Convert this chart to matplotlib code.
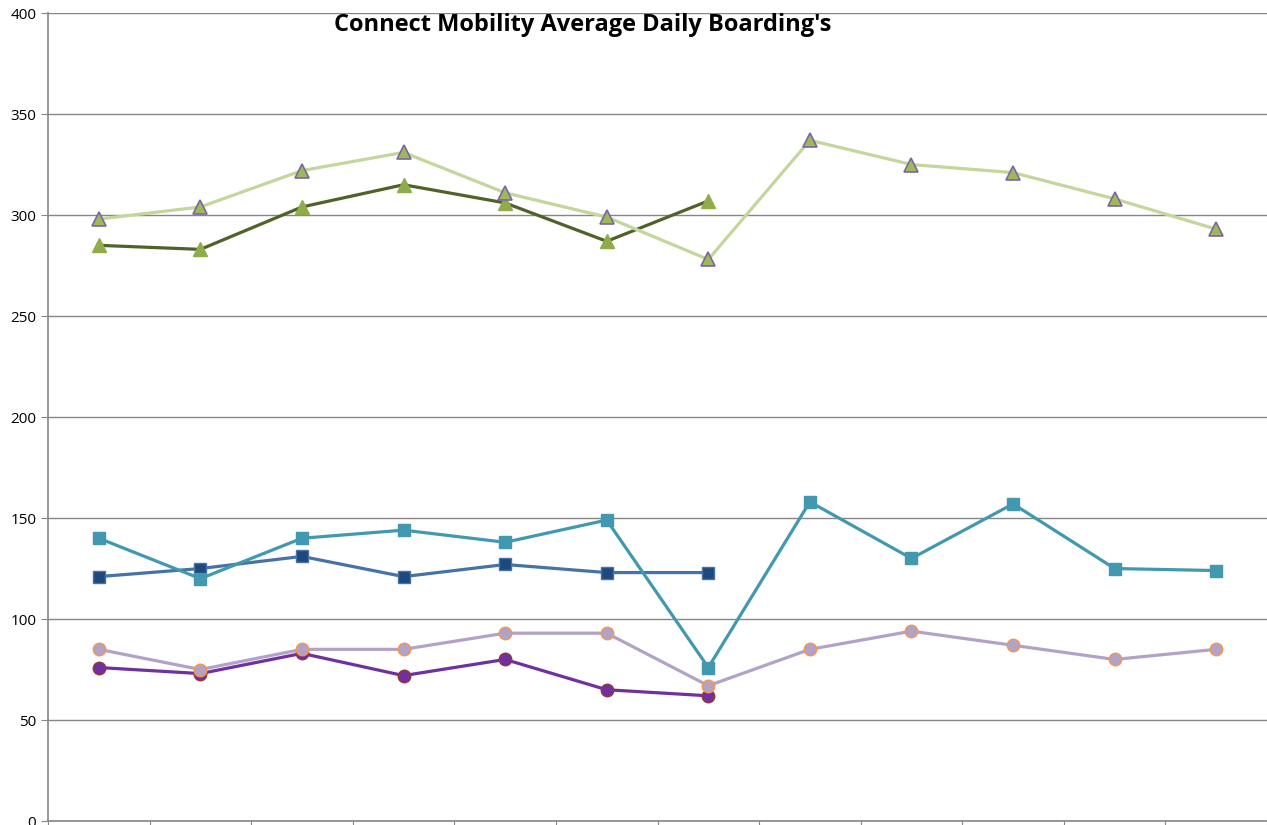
import numpy as np
import matplotlib.pyplot as plt

months = np.arange(1, 13)

# previous year (7 months)
green_prev = [285, 283, 304, 315, 306, 287, 307]
blue_prev = [121, 125, 131, 121, 127, 123, 123]
purple_prev = [76, 73, 83, 72, 80, 65, 62]

# current year (12 months)
green_cur = [298, 304, 322, 331, 311, 299, 278, 337, 325, 321, 308, 293]
teal_cur = [140, 120, 140, 144, 138, 149, 76, 158, 130, 157, 125, 124]
purple_cur = [85, 75, 85, 85, 93, 93, 67, 85, 94, 87, 80, 85]

fig = plt.figure(figsize=(12.67, 8.25), dpi=100)
ax = fig.add_axes([0.0379, 0.0048, 0.9621, 0.9794])

lw = 2.3
n = len(purple_prev)
ax.plot(months[:n], purple_prev, '-o', color='#7030A0', lw=lw, ms=9,
        mfc='#7030A0', mec='#953735', mew=1, zorder=3)
ax.plot(months[:n], blue_prev, '-s', color='#4572A7', lw=lw, ms=9,
        mfc='#1F497D', mec='#4572A7', mew=1, zorder=3)
ax.plot(months[:n], green_prev, '-^', color='#4F6228', lw=lw, ms=10,
        mfc='#8EAD4A', mec='#8EAD4A', mew=1, zorder=3)

ax.plot(months, purple_cur, '-o', color='#B3A2C7', lw=lw, ms=9,
        mfc='#B3A2C7', mec='#F79646', mew=1, zorder=4)
ax.plot(months, teal_cur, '-s', color='#4198AF', lw=lw, ms=9,
        mfc='#4198AF', mec='#4198AF', mew=1, zorder=4)
ax.plot(months, green_cur, '-^', color='#C3D69B', lw=lw, ms=10,
        mfc='#9BBB59', mec='#8064A2', mew=1.2, zorder=4)

ax.set_xlim(0.5, 12.5)
ax.set_ylim(0, 400)
ax.set_yticks(np.arange(0, 401, 50))
ax.set_xticks(np.arange(0.5, 12.6, 1))
ax.set_xticklabels([])
ax.yaxis.grid(True, color='#868686', lw=1)
ax.set_axisbelow(True)
for s in ['top', 'right']:
    ax.spines[s].set_visible(False)
for s in ['left', 'bottom']:
    ax.spines[s].set_color('#868686')
    ax.spines[s].set_linewidth(1.2)
ax.tick_params(axis='y', colors='#868686', length=5, labelcolor='black',
               labelsize=11)
ax.tick_params(axis='x', colors='#868686', length=5)
for lab in ax.get_yticklabels():
    lab.set_family('Open Sans')

fig.text(0.46, 0.97, "Connect Mobility Average Daily Boarding's",
         ha='center', va='center', fontsize=17, fontweight='bold',
         family='Open Sans')

fig.savefig('out.png', dpi=100)
